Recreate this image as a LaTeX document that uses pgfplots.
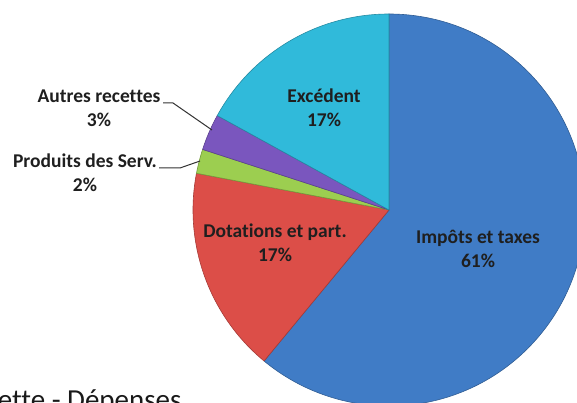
\documentclass[border=0pt]{standalone}
\usepackage{pgfplots}
\pgfplotsset{compat=1.18}
\usepackage{fontspec}
\setmainfont{Carlito}[Ligatures=NoCommon]

\definecolor{impots}{RGB}{64,124,198}
\definecolor{dotations}{RGB}{220,78,72}
\definecolor{produits}{RGB}{156,206,80}
\definecolor{autres}{RGB}{122,86,190}
\definecolor{excedent}{RGB}{48,186,218}

\tikzset{lbl/.style={align=center, text=black!88,
    font=\fontsize{19.5}{24}\selectfont\bfseries}}

% one slice of the pie: start angle, end angle, colour (centre 389,193, radius 196)
\newcommand\sector[3]{%
  \fill[#3, draw=#3!75!black, line width=0.6pt, line join=round]
    (axis cs:389,193) -- ++(#1:196pt) arc[start angle=#1, end angle=#2, radius=196pt] -- cycle;}

\begin{document}
\begin{tikzpicture}
\useasboundingbox (0,0) rectangle (577pt,403pt);
\begin{axis}[
  scale only axis, width=577pt, height=403pt,
  at={(0pt,0pt)}, anchor=origin,
  xmin=0, xmax=577, ymin=0, ymax=403,
  hide axis, clip=false,
]
% shares in percent: 61, 17, 2, 3, 17 (clockwise from 12 o'clock)
\sector{90}{-129.6}{impots}
\sector{230.4}{169.2}{dotations}
\sector{169.2}{162}{produits}
\sector{162}{151.2}{autres}
\sector{151.2}{90}{excedent}

\node[lbl] at (axis cs:478,154) {Impôts et taxes\\61\%};
\node[lbl] at (axis cs:275,160) {Dotations et part.\\17\%};
\node[lbl] at (axis cs:324,295) {Excédent\\17\%};
\node[lbl] at (axis cs:99,295) {Autres recettes\\3\%};
\node[lbl] at (axis cs:85,230) {Produits des Serv.\\2\%};

\draw[black!80, line width=1pt] (axis cs:163,300) -- (axis cs:173,300) -- (axis cs:212,273);
\draw[black!80, line width=1pt] (axis cs:159,235) -- (axis cs:180,235) -- (axis cs:200,242);

\node[anchor=base east, font=\fontsize{29}{34}\selectfont, text=black!90]
  at (axis cs:185,-6) {Recette - Dépenses};
\end{axis}
\end{tikzpicture}
\end{document}
